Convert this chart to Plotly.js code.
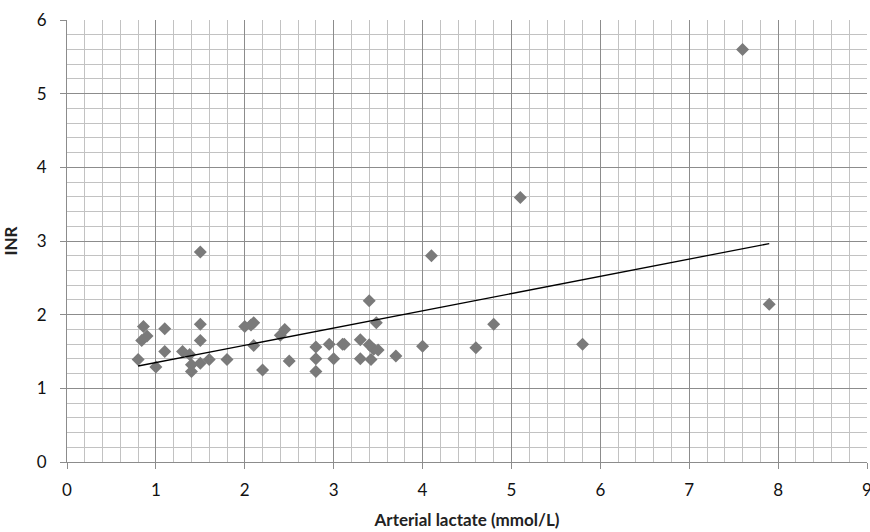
<!DOCTYPE html>
<html>
<head>
<meta charset="utf-8">
<script src="https://cdn.plot.ly/plotly-3.0.1.min.js"></script>
<style>
  html, body { margin: 0; padding: 0; background: #fff; }
  #chart { width: 870px; height: 532px; }
</style>
</head>
<body>
<div id="chart"></div>
<script>
// Arterial lactate (mmol/L) against INR, one entry per patient
const lactate = [0.8, 0.84, 0.86, 0.9, 1.0, 1.1, 1.1, 1.3, 1.38, 1.4,
                 1.4, 1.5, 1.5, 1.5, 1.5, 1.6, 1.8, 2.0, 2.07, 2.1,
                 2.1, 2.2, 2.4, 2.45, 2.5, 2.8, 2.8, 2.8, 2.95, 3.0,
                 3.1, 3.12, 3.3, 3.3, 3.4, 3.4, 3.42, 3.45, 3.48, 3.5,
                 3.7, 4.0, 4.1, 4.6, 4.8, 5.1, 5.8, 7.6, 7.9];
const inr     = [1.39, 1.65, 1.84, 1.71, 1.29, 1.81, 1.5, 1.5, 1.46, 1.32,
                 1.23, 1.34, 1.87, 1.65, 2.85, 1.39, 1.39, 1.84, 1.86, 1.89,
                 1.58, 1.25, 1.72, 1.8, 1.37, 1.56, 1.4, 1.23, 1.6, 1.4,
                 1.6, 1.6, 1.66, 1.4, 2.19, 1.59, 1.39, 1.53, 1.89, 1.52,
                 1.44, 1.57, 2.8, 1.55, 1.87, 3.59, 1.6, 5.6, 2.14];

const xTicks = [0, 1, 2, 3, 4, 5, 6, 7, 8, 9];
const yTicks = [0, 1, 2, 3, 4, 5, 6];

// Least-squares linear trend over the observed lactate range
function linearFit(xs, ys) {
  const n = xs.length;
  const mx = xs.reduce((a, b) => a + b, 0) / n;
  const my = ys.reduce((a, b) => a + b, 0) / n;
  let sxy = 0, sxx = 0;
  for (let i = 0; i < n; i++) {
    sxy += (xs[i] - mx) * (ys[i] - my);
    sxx += (xs[i] - mx) * (xs[i] - mx);
  }
  const slope = sxy / sxx;
  return { slope: slope, intercept: my - slope * mx };
}
const fit = linearFit(lactate, inr);
const trendX = [Math.min(...lactate), Math.max(...lactate)];
const trendY = trendX.map(x => fit.intercept + fit.slope * x);

const points = {
  x: lactate, y: inr, type: 'scatter', mode: 'markers',
  marker: { symbol: 'diamond', size: 10, color: '#7a7a7a', line: { width: 0 } },
  hoverinfo: 'x+y', showlegend: false
};
const trend = {
  x: trendX, y: trendY, type: 'scatter', mode: 'lines',
  line: { color: '#000000', width: 1.3 },
  hoverinfo: 'skip', showlegend: false
};

const majorGrid = '#8c8c8c';
const minorGrid = '#c2c2c2';
const font = 'Lato, "Open Sans", "Liberation Sans", sans-serif';

const layout = {
  width: 870, height: 532,
  margin: { l: 67, r: 3, t: 20, b: 70 },
  paper_bgcolor: '#ffffff', plot_bgcolor: '#ffffff',
  font: { family: font, size: 17, color: '#111111' },
  xaxis: {
    range: [0, 9], tickvals: xTicks, ticktext: xTicks.map(String),
    showgrid: true, gridcolor: majorGrid, gridwidth: 1,
    minor: { dtick: 0.2, showgrid: true, gridcolor: minorGrid, gridwidth: 1, ticks: '' },
    showline: true, linecolor: majorGrid, linewidth: 1,
    ticks: 'outside', ticklen: 6, tickcolor: majorGrid, tickwidth: 1,
    ticklabelstandoff: 7, ticklabeloverflow: 'allow',
    zeroline: false, fixedrange: true,
    title: { text: '<b>Arterial lactate (mmol/L)</b>', font: { family: font, size: 17, color: '#222222' }, standoff: 14 }
  },
  yaxis: {
    range: [0, 6], tickvals: yTicks, ticktext: yTicks.map(String),
    showgrid: true, gridcolor: majorGrid, gridwidth: 1,
    minor: { dtick: 0.2, showgrid: true, gridcolor: minorGrid, gridwidth: 1, ticks: '' },
    showline: true, linecolor: majorGrid, linewidth: 1,
    ticks: 'outside', ticklen: 6, tickcolor: majorGrid, tickwidth: 1,
    ticklabelstandoff: 10,
    zeroline: false, fixedrange: true,
    title: { text: '<b>INR</b>', font: { family: font, size: 17, color: '#222222' }, standoff: 14 }
  }
};

Plotly.newPlot('chart', [points, trend], layout, { staticPlot: true, displayModeBar: false });
</script>
</body>
</html>
